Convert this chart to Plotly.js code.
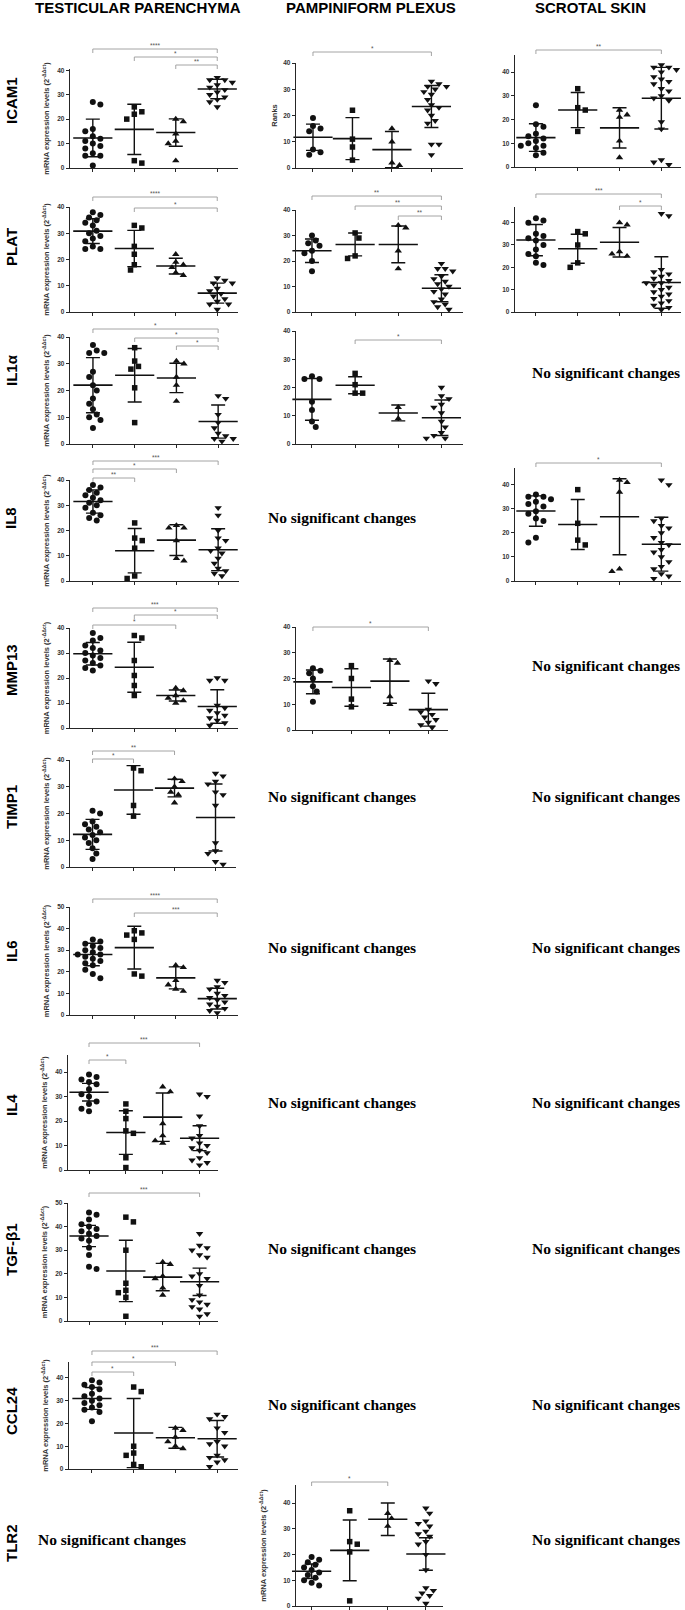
<!DOCTYPE html>
<html><head><meta charset="utf-8">
<script src="https://cdn.plot.ly/plotly-3.0.1.min.js"></script>
<style>html,body{margin:0;padding:0;background:#fff}</style>
</head><body><div id="chart" style="width:685px;height:1610px"></div>
<script>
// ---------------- DATA ----------------
const tissues = ['TESTICULAR PARENCHYMA', 'PAMPINIFORM PLEXUS', 'SCROTAL SKIN'];
const genes = ['ICAM1', 'PLAT', 'IL1α', 'IL8', 'MMP13', 'TIMP1', 'IL6', 'IL4', 'TGF-β1', 'CCL24', 'TLR2'];
const noChangeText = 'No significant changes';

// ICAM1
const icam1_tp = [[27,26,16,15,13,12,11,10,9,8,6,5,5,1],[25,23,22,20,3,2],[20,19,14,11,10,3],[37,36,36,35,34,33,32,31,30,29,28,27,25]];
const icam1_tp_mean = [12.3,15.8,14.5,32.3];
const icam1_tp_sd = [7.7,10.3,5.6,4.0];
const icam1_tp_sig = [[1,4,'****'],[2,4,'*'],[3,4,'**']];

const icam1_pp = [[19,16,15,14,7,6,5],[22,11,8,3],[15,10,2,1],[33,32,31,31,30,29,28,26,24,23,22,20,18,17,9,9,5]];
const icam1_pp_mean = [11.7,11.2,7.0,23.4];
const icam1_pp_sd = [5.0,8.0,6.9,8.0];
const icam1_pp_sig = [[1,4,'*']];

const icam1_ss = [[26,18,17,14,13,12,11,10,9,9,8,6,5],[33,25,24,15],[24,22,21,11,4],[43,42,42,41,40,38,37,36,35,33,32,30,29,28,19,16,3,2,1]];
const icam1_ss_mean = [12.4,24.0,16.5,29.0];
const icam1_ss_sd = [5.8,7.4,8.5,13.0];
const icam1_ss_sig = [[1,4,'**']];

// PLAT
const plat_tp = [[38,37,36,35,34,33,31,30,29,28,27,25,24,24],[33,32,25,22,18,16],[22,19,18,17,15,14],[13,12,11,11,9,8,7,6,5,4,3,3,1]];
const plat_tp_mean = [30.8,24.2,17.5,7.2];
const plat_tp_sd = [4.7,6.9,3.0,3.8];
const plat_tp_sig = [[1,4,'****'],[2,4,'*']];

const plat_pp = [[30,28,27,26,24,23,20,16],[31,29,22,21],[34,33,24,17],[19,17,17,16,14,13,12,11,10,9,8,7,5,4,3,2,1]];
const plat_pp_mean = [24.0,26.5,26.5,9.3];
const plat_pp_sd = [4.6,4.5,7.2,5.3];
const plat_pp_sig = [[1,4,'**'],[2,4,'**'],[3,4,'**']];

const plat_ss = [[42,41,40,35,34,33,32,30,28,26,25,22,21],[36,35,30,22,20],[40,39,27,26,25],[44,43,19,18,17,16,15,14,13,13,12,11,10,9,8,7,6,5,4,3,2,1]];
const plat_ss_mean = [32.2,28.3,31.2,13.2];
const plat_ss_sd = [7.0,6.5,6.6,11.5];
const plat_ss_sig = [[1,4,'***'],[3,4,'*']];

// IL1α
const il1a_tp = [[37,35,34,34,27,25,22,20,17,15,13,11,10,9,6],[36,31,29,28,21,8],[31,30,25,22,16],[18,17,11,8,6,4,3,2,2,1]];
const il1a_tp_mean = [22.0,25.7,24.7,8.4];
const il1a_tp_sd = [10.3,10.0,5.5,6.2];
const il1a_tp_sig = [[1,4,'*'],[2,4,'*'],[3,4,'*']];

const il1a_pp = [[24,23,23,15,12,8,6],[25,21,18,18],[13,9],[20,17,16,14,13,11,8,6,4,3,2,2]];
const il1a_pp_mean = [15.8,20.8,11.0,9.3];
const il1a_pp_sd = [7.4,3.0,2.8,6.3];
const il1a_pp_sig = [[2,4,'*']];

// IL8
const il8_tp = [[38,37,36,35,34,33,32,31,30,29,27,26,25,24],[23,17,16,13,2,1],[22,21,21,16,9,8],[29,26,20,17,16,13,12,11,9,7,5,4,3,2]];
const il8_tp_mean = [31.5,12.0,16.2,12.4];
const il8_tp_sd = [4.6,8.8,6.1,8.3];
const il8_tp_sig = [[1,4,'***'],[1,3,'*'],[1,2,'**']];

const il8_ss = [[36,35,35,34,33,32,31,29,28,26,25,18,16],[38,24,17,15],[42,41,37,5,4],[42,40,26,25,23,22,20,18,16,15,13,12,10,8,6,5,3,2,1]];
const il8_ss_mean = [29.1,23.5,26.7,15.3];
const il8_ss_sd = [6.3,10.4,15.8,11.2];
const il8_ss_sig = [[1,4,'*']];

// MMP13
const mmp13_tp = [[38,36,35,33,32,31,30,29,28,27,26,25,24,23],[37,36,27,21,17,13],[16,15,13,12,11,10],[20,19,19,9,8,7,6,5,4,3,2,1]];
const mmp13_tp_mean = [29.7,24.3,13.0,8.6];
const mmp13_tp_sd = [4.5,10.0,2.2,6.7];
const mmp13_tp_sig = [[1,4,'***'],[2,4,'*'],[1,3,'*']];

const mmp13_pp = [[24,23,22,20,17,15,11],[25,20,12,9],[27,26,13,10],[19,18,8,7,6,5,4,3,2,1]];
const mmp13_pp_mean = [18.7,16.5,19.0,7.9];
const mmp13_pp_sd = [4.6,7.3,8.6,6.4];
const mmp13_pp_sig = [[1,4,'*']];

// TIMP1
const timp1_tp = [[21,20,17,16,15,14,13,12,11,10,9,7,5,3],[37,36,23,19],[33,32,30,28,27,24],[35,34,32,31,28,27,23,9,6,5,2,1]];
const timp1_tp_mean = [12.2,28.8,29.5,18.5];
const timp1_tp_sd = [5.6,9.1,3.3,12.5];
const timp1_tp_sig = [[1,3,'**'],[1,2,'*']];

// IL6
const il6_tp = [[35,34,33,32,31,30,29,28,28,27,26,25,24,23,21,19,17],[39,38,37,35,19,18],[23,22,16,14,12,11],[16,15,13,12,10,9,8,7,6,5,4,3,2,1]];
const il6_tp_mean = [28.0,31.2,17.2,7.6];
const il6_tp_sd = [5.2,9.9,5.1,4.8];
const il6_tp_sig = [[1,4,'****'],[2,4,'***']];

// IL4
const il4_tp = [[39,38,37,36,35,33,31,30,28,27,25,24],[27,24,21,16,15,5,1],[34,32,19,14,12,11],[31,30,22,18,14,13,11,10,9,8,7,5,4,3,2]];
const il4_tp_mean = [31.8,15.3,21.6,13.0];
const il4_tp_sd = [3.6,8.9,9.9,5.1];
const il4_tp_sig = [[1,4,'***'],[1,2,'*']];

// TGF-β1
const tgfb1_tp = [[46,45,43,41,40,39,38,37,36,35,34,31,28,23,22],[44,42,30,16,13,12,10,2],[25,24,19,18,14,11],[37,32,31,30,28,27,20,19,18,15,11,9,8,7,6,5,3,2]];
const tgfb1_tp_mean = [36.0,21.2,18.6,16.6];
const tgfb1_tp_sd = [4.5,13.0,5.8,5.8];
const tgfb1_tp_sig = [[1,4,'***']];

// CCL24
const ccl24_tp = [[39,38,37,36,35,33,32,31,30,29,28,27,26,25,21],[36,34,10,7,6,2,1],[18,17,14,12,10,9],[24,23,22,18,16,12,11,10,6,5,4,3,1]];
const ccl24_tp_mean = [31.0,15.8,13.7,13.3];
const ccl24_tp_sd = [4.8,15.2,4.6,8.0];
const ccl24_tp_sig = [[1,4,'***'],[1,3,'*'],[1,2,'*']];

// TLR2
const tlr2_pp = [[19,18,17,16,15,14,13,12,11,10,9,8],[37,25,24,21,2],[36,34,31],[38,36,33,32,31,29,28,27,25,24,20,14,7,6,5,4,3,1]];
const tlr2_pp_mean = [13.5,21.6,33.7,20.2];
const tlr2_pp_sd = [2.8,11.8,6.3,6.3];
const tlr2_pp_sig = [[1,3,'*']];

// ---------------- LAYOUT (pixel geometry) ----------------
const W = 685, H = 1610;
const fx = p => p / W;
const fy = p => 1 - p / H;
const MRNA = 'mRNA expression levels (2<sup>-ΔΔct</sup>)';
const XR_TP = [0.45, 4.5], XR_SS = [0.5, 4.47];

const panels = [
  {d:icam1_tp, m:icam1_tp_mean, s:icam1_tp_sd, sig:icam1_tp_sig, br:[49,57,65], x0:70, x1:238, top:69, bottom:168, ymax:40.5, xr:XR_TP, title:MRNA, so:6},
  {d:icam1_pp, m:icam1_pp_mean, s:icam1_pp_sd, sig:icam1_pp_sig, br:[52], x0:296, x1:463, top:63, bottom:168, ymax:40, xr:[0.57,4.8], title:'Ranks', so:4},
  {d:icam1_ss, m:icam1_ss_mean, s:icam1_ss_sd, sig:icam1_ss_sig, br:[50], x0:515, x1:681, top:55, bottom:167, ymax:47.2, xr:XR_SS},
  {d:plat_tp, m:plat_tp_mean, s:plat_tp_sd, sig:plat_tp_sig, br:[197,208], x0:70, x1:238, top:207, bottom:312, ymax:40, xr:XR_TP, title:MRNA, so:6},
  {d:plat_pp, m:plat_pp_mean, s:plat_pp_sd, sig:plat_pp_sig, br:[196,206,216], x0:296, x1:463, top:210, bottom:312, ymax:40, xr:[0.63,4.5]},
  {d:plat_ss, m:plat_ss_mean, s:plat_ss_sd, sig:plat_ss_sig, br:[194,206], x0:515, x1:681, top:207, bottom:312, ymax:47, xr:XR_SS},
  {d:il1a_tp, m:il1a_tp_mean, s:il1a_tp_sd, sig:il1a_tp_sig, br:[329,338,346], x0:70, x1:239, top:337, bottom:444, ymax:40, xr:XR_TP, title:MRNA, so:6},
  {d:il1a_pp, m:il1a_pp_mean, s:il1a_pp_sd, sig:il1a_pp_sig, br:[340], x0:296, x1:463, top:331, bottom:444, ymax:40, xr:[0.63,4.5]},
  {d:il8_tp, m:il8_tp_mean, s:il8_tp_sd, sig:il8_tp_sig, br:[461,469,478], x0:70, x1:239, top:480, bottom:581, ymax:40, xr:XR_TP, title:MRNA, so:6},
  {d:il8_ss, m:il8_ss_mean, s:il8_ss_sd, sig:il8_ss_sig, br:[463], x0:515, x1:681, top:468, bottom:581, ymax:47, xr:XR_SS},
  {d:mmp13_tp, m:mmp13_tp_mean, s:mmp13_tp_sd, sig:mmp13_tp_sig, br:[608,615,625], x0:70, x1:238, top:628, bottom:728, ymax:40, xr:XR_TP, title:MRNA, so:6},
  {d:mmp13_pp, m:mmp13_pp_mean, s:mmp13_pp_sd, sig:mmp13_pp_sig, br:[627], x0:296, x1:448, top:627, bottom:730, ymax:40, xr:[0.56,4.51]},
  {d:timp1_tp, m:timp1_tp_mean, s:timp1_tp_sd, sig:timp1_tp_sig, br:[751,759], x0:70, x1:236, top:760, bottom:867, ymax:40, xr:XR_TP, title:MRNA, so:6},
  {d:il6_tp, m:il6_tp_mean, s:il6_tp_sd, sig:il6_tp_sig, br:[899,913], x0:70, x1:238, top:907, bottom:1015, ymax:50, xr:XR_TP, title:MRNA, so:6},
  {d:il4_tp, m:il4_tp_mean, s:il4_tp_sd, sig:il4_tp_sig, br:[1043,1060], x0:68, x1:218, top:1055, bottom:1170, ymax:47, xr:[0.43,4.5], title:MRNA, so:6},
  {d:tgfb1_tp, m:tgfb1_tp_mean, s:tgfb1_tp_sd, sig:tgfb1_tp_sig, br:[1193], x0:68, x1:218, top:1203, bottom:1321, ymax:50, xr:[0.43,4.5], title:MRNA, so:6},
  {d:ccl24_tp, m:ccl24_tp_mean, s:ccl24_tp_sd, sig:ccl24_tp_sig, br:[1351,1362,1372], x0:69, x1:238, top:1362, bottom:1469, ymax:47, xr:XR_TP, title:MRNA, so:6},
  {d:tlr2_pp, m:tlr2_pp_mean, s:tlr2_pp_sd, sig:tlr2_pp_sig, br:[1482], x0:296, x1:443, top:1485, bottom:1606, ymax:47, xr:[0.59,4.45], title:MRNA, so:15}
];

// "No significant changes" placements [centerX px, centerY px]
const ncPos = [[606,372],[342,518],[606,665],[342,796],[606,796],[342,947],[606,947],
  [342,1102],[606,1102],[342,1248],[606,1248],[342,1404],[606,1404],[112,1539],[606,1539]];
const headerPos = [[138,8],[371,8],[590,8]];
const geneY = [101,247,370,518,670,807,951,1105,1250,1411,1543];

const symbols = ['circle','square','triangle-up','triangle-down'];
const msize = [6,5.5,6.5,6.5];
const INK = '#111', AX = '#262626';
const STRETCH = 1.3;   // horizontal stretch of the original panels

function swarm(vals, pxX, pxY, d) {
  const idx = vals.map((v,i)=>i).sort((a,b)=>vals[b]-vals[a]);
  const placed = [], off = new Array(vals.length).fill(0);
  let flip = 1;
  idx.forEach(i => {
    const y = vals[i]*pxY;
    for (let k=0;k<60;k++) {
      const s = k===0 ? 0 : ((k%2===1)?flip:-flip)*Math.ceil(k/2)*d*0.5;
      if (placed.every(p => Math.hypot(p.x-s, p.y-y) >= d)) {
        placed.push({x:s,y:y}); off[i] = s*STRETCH/pxX; if (s!==0) flip = -flip; break;
      }
    }
  });
  return off;
}

const traces = [], shapes = [], annotations = [];
const layout = {width:W, height:H, margin:{l:0,r:0,t:0,b:0}, showlegend:false,
  paper_bgcolor:'#fff', plot_bgcolor:'rgba(0,0,0,0)', font:{family:'Liberation Sans, Arial, sans-serif', color:INK}};

panels.forEach((p, i) => {
  const sfx = i===0 ? '' : String(i+1);
  const xa = 'x'+sfx, ya = 'y'+sfx;
  const pxX = (p.x1-p.x0)/(p.xr[1]-p.xr[0]);
  const pxY = (p.bottom-p.top)/p.ymax;
  const tv = []; for (let t=0; t<=p.ymax+0.01; t+=10) tv.push(t);
  layout['xaxis'+sfx] = {domain:[fx(p.x0), fx(p.x1)], range:p.xr, anchor:ya, tickvals:[1,2,3,4],
    showticklabels:false, ticks:'outside', ticklen:3, tickwidth:1, tickcolor:AX, showline:true,
    linecolor:AX, linewidth:1.3, showgrid:false, zeroline:false, fixedrange:true};
  const yax = {domain:[fy(p.bottom), fy(p.top)], range:[0,p.ymax], anchor:xa, tickvals:tv,
    ticks:'outside', ticklen:3, tickwidth:1, tickcolor:AX, showline:true, linecolor:AX, linewidth:1.3,
    showgrid:false, zeroline:false, fixedrange:true,
    tickfont:{size:6.5, color:'#333', weight:'bold'}};
  if (p.title) yax.title = {text:p.title, font:{size:7.5, color:'#333', weight:'bold'}, standoff:p.so};
  layout['yaxis'+sfx] = yax;
  p.d.forEach((vals, g) => {
    const off = swarm(vals, pxX, pxY, 5.8);
    traces.push({type:'scatter', mode:'markers', xaxis:xa, yaxis:ya, cliponaxis:false, hoverinfo:'skip',
      x: vals.map((v,j)=> g+1+off[j]), y: vals,
      marker:{symbol:symbols[g], size:msize[g], color:INK, line:{width:0}}});
  });
  traces.push({type:'scatter', mode:'markers', xaxis:xa, yaxis:ya, cliponaxis:false, hoverinfo:'skip',
    x:[1,2,3,4], y:p.m,
    marker:{symbol:'line-ew', size:28, color:INK, line:{width:1.6, color:INK}},
    error_y:{type:'data', array:p.s, visible:true, color:INK, thickness:1.4, width:7}});
  p.sig.forEach((s, k) => {
    const by = p.br[k];
    const f1 = (p.bottom-by)/(p.bottom-p.top), f2 = (p.bottom-(by+4))/(p.bottom-p.top);
    const base = {type:'line', xref:xa, yref:ya+' domain', line:{color:'#9a9a9a', width:0.9}};
    shapes.push(Object.assign({}, base, {x0:s[0], x1:s[0], y0:f2, y1:f1}));
    shapes.push(Object.assign({}, base, {x0:s[0], x1:s[1], y0:f1, y1:f1}));
    shapes.push(Object.assign({}, base, {x0:s[1], x1:s[1], y0:f2, y1:f1}));
    annotations.push({xref:xa, yref:ya+' domain', x:(s[0]+s[1])/2, y:f1, yanchor:'bottom', xanchor:'center',
      text:s[2], showarrow:false, font:{size:6.5, color:'#555'}, borderpad:0, yshift:-1});
  });
});

tissues.forEach((t, i) => annotations.push({xref:'paper', yref:'paper', x:fx(headerPos[i][0]), y:fy(headerPos[i][1]),
  xanchor:'center', yanchor:'middle', showarrow:false, text:'<b>'+t+'</b>',
  font:{family:'Liberation Sans, Arial, sans-serif', size:15, color:'#000'}}));
genes.forEach((g, i) => annotations.push({xref:'paper', yref:'paper', x:fx(11), y:fy(geneY[i]),
  xanchor:'center', yanchor:'middle', showarrow:false, textangle:-90, text:'<b>'+g+'</b>',
  font:{family:'Liberation Sans, Arial, sans-serif', size:15, color:'#000'}}));
ncPos.forEach(pos => annotations.push({xref:'paper', yref:'paper', x:fx(pos[0]), y:fy(pos[1]),
  xanchor:'center', yanchor:'middle', showarrow:false, text:'<b>'+noChangeText+'</b>',
  font:{family:'Liberation Serif, Times New Roman, serif', size:15.5, color:'#000'}}));

layout.shapes = shapes;
layout.annotations = annotations;
Plotly.newPlot('chart', traces, layout, {staticPlot:true, displayModeBar:false});
</script></body></html>
